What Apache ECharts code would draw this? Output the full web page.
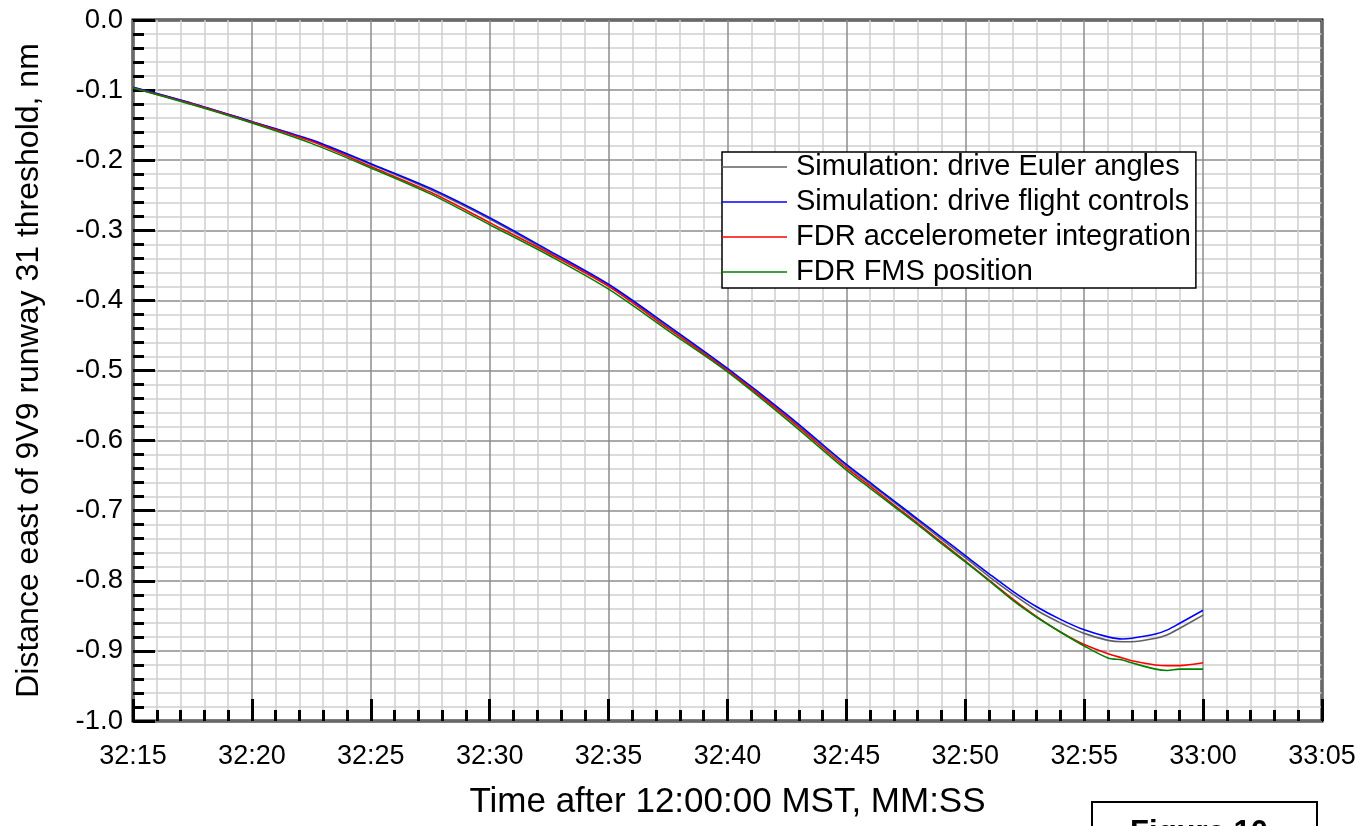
<!DOCTYPE html>
<html>
<head>
<meta charset="utf-8">
<script src="https://cdn.jsdelivr.net/npm/echarts@6/dist/echarts.min.js"></script>
<style>
  html, body { margin: 0; padding: 0; background: #ffffff; }
  #chart { width: 1370px; height: 826px; }
</style>
</head>
<body>
<div id="chart"></div>
<script>
// Time, seconds after 12:00:00 MST (32:15 = 1935 s)
const timeSec = [1935, 1937.5, 1940, 1942.5, 1945, 1947.5, 1950, 1952.5, 1955, 1957.5,
  1960, 1962.5, 1965, 1966, 1967, 1968, 1969, 1970, 1971, 1972, 1973, 1974, 1975,
  1976, 1976.6, 1977, 1978, 1978.5, 1979, 1980];

// Distance east of 9V9 runway 31 threshold, nm
const simEuler = [-0.096, -0.119, -0.145, -0.172, -0.206, -0.242, -0.284, -0.331, -0.379, -0.438,
  -0.499, -0.565, -0.636, -0.662, -0.688, -0.714, -0.741, -0.767, -0.794, -0.819, -0.842, -0.860, -0.875,
  -0.885, -0.887, -0.887, -0.882, -0.877, -0.868, -0.849];
const simControls = [-0.096, -0.119, -0.145, -0.171, -0.205, -0.240, -0.282, -0.329, -0.377, -0.436,
  -0.497, -0.563, -0.634, -0.660, -0.686, -0.712, -0.738, -0.764, -0.790, -0.815, -0.837, -0.855, -0.870,
  -0.880, -0.883, -0.882, -0.876, -0.870, -0.861, -0.842];
const fdrAccel = [-0.097, -0.120, -0.146, -0.173, -0.209, -0.2455, -0.289, -0.333, -0.380, -0.440,
  -0.500, -0.567, -0.639, -0.665, -0.692, -0.718, -0.745, -0.772, -0.799, -0.826, -0.851, -0.873, -0.891,
  -0.904, -0.910, -0.914, -0.920, -0.921, -0.921, -0.917];
const fdrFms = [-0.097, -0.121, -0.147, -0.176, -0.211, -0.248, -0.292, -0.336, -0.384, -0.443,
  -0.502, -0.570, -0.642, -0.668, -0.694, -0.720, -0.747, -0.773, -0.800, -0.828, -0.852, -0.873, -0.893,
  -0.910, -0.913, -0.917, -0.926, -0.928, -0.926, -0.926];

const seriesNames = [
  'Simulation: drive Euler angles',
  'Simulation: drive flight controls',
  'FDR accelerometer integration',
  'FDR FMS position'
];
const seriesColors = ['#606060', '#0000ff', '#ff0000', '#008000'];
const seriesValues = [simEuler, simControls, fdrAccel, fdrFms];

const xTitle = 'Time after 12:00:00 MST, MM:SS';
const yTitle = 'Distance east of 9V9 runway 31 threshold, nm';
const figureLabel = 'Figure 10';

const FONT = '"Liberation Sans", Arial, Helvetica, sans-serif';

function mmss(v) {
  const m = Math.floor(v / 60);
  const s = Math.round(v - m * 60);
  return m + ':' + (s < 10 ? '0' + s : s);
}

const chart = echarts.init(document.getElementById('chart'), null, { renderer: 'canvas' });

const tickStyle = { color: '#000', width: 3 };

const option = {
  animation: false,
  backgroundColor: '#ffffff',
  textStyle: { fontFamily: FONT },
  grid: {
    left: 133, right: 48, top: 20, bottom: 105,
    containLabel: false,
    outerBoundsMode: 'none',
    show: true,
    borderColor: '#000000',
    borderWidth: 3,
    backgroundColor: 'transparent'
  },
  legend: {
    orient: 'vertical',
    left: 722, top: 152,
    data: seriesNames,
    icon: 'rect',
    itemWidth: 65,
    itemHeight: 1.6,
    itemGap: 5,
    padding: [0, 5, 1, 0],
    backgroundColor: '#ffffff',
    borderColor: '#000000',
    borderWidth: 1.5,
    borderRadius: 0,
    textStyle: { fontFamily: FONT, fontSize: 29, color: '#000000', lineHeight: 30, padding: [0, 0, 0, 4] }
  },
  xAxis: {
    type: 'value',
    min: 1935, max: 1985, interval: 5,
    name: xTitle,
    nameLocation: 'middle',
    nameGap: 64,
    nameTextStyle: { fontSize: 35, color: '#000', fontFamily: FONT },
    axisLine: { show: false, onZero: false },
    axisTick: { show: true, inside: true, length: 22, lineStyle: tickStyle },
    minorTick: { show: true, splitNumber: 5, length: 11, lineStyle: tickStyle },
    splitLine: { show: true, lineStyle: { color: '#8c8c8c', width: 1.5 } },
    minorSplitLine: { show: true, lineStyle: { color: '#cfcfcf', width: 1.5 } },
    axisLabel: { formatter: mmss, fontSize: 27, color: '#000', margin: 22, fontFamily: FONT }
  },
  yAxis: {
    type: 'value',
    min: -1, max: 0, interval: 0.1,
    name: yTitle,
    nameLocation: 'middle',
    nameRotate: 90,
    nameGap: 88,
    nameTextStyle: { fontSize: 32, color: '#000', fontFamily: FONT },
    axisLine: { show: false, onZero: false },
    axisTick: { show: true, inside: true, length: 22, lineStyle: tickStyle },
    minorTick: { show: true, splitNumber: 5, length: 11, lineStyle: tickStyle },
    splitLine: { show: true, lineStyle: { color: '#8c8c8c', width: 1.5 } },
    minorSplitLine: { show: true, lineStyle: { color: '#cfcfcf', width: 1.5 } },
    axisLabel: { formatter: v => v.toFixed(1), fontSize: 27.5, color: '#000', margin: 10, fontFamily: FONT }
  },
  series: seriesNames.map((name, i) => ({
    name: name,
    type: 'line',
    data: timeSec.map((t, k) => [t, seriesValues[i][k]]),
    showSymbol: false,
    symbol: 'none',
    smooth: 0.3,
    lineStyle: { color: seriesColors[i], width: 1.6 },
    itemStyle: { color: seriesColors[i] },
    z: 3 + i
  })),
  graphic: [
    {
      type: 'rect',
      shape: { x: 1092, y: 802, width: 225, height: 60 },
      style: { fill: '#ffffff', stroke: '#000000', lineWidth: 2 }
    },
    {
      type: 'text',
      x: 1199, y: 818,
      style: { text: figureLabel, font: 'bold 31px ' + FONT, fill: '#000', align: 'center', verticalAlign: 'top' }
    }
  ]
};

chart.setOption(option);
</script>
</body>
</html>
